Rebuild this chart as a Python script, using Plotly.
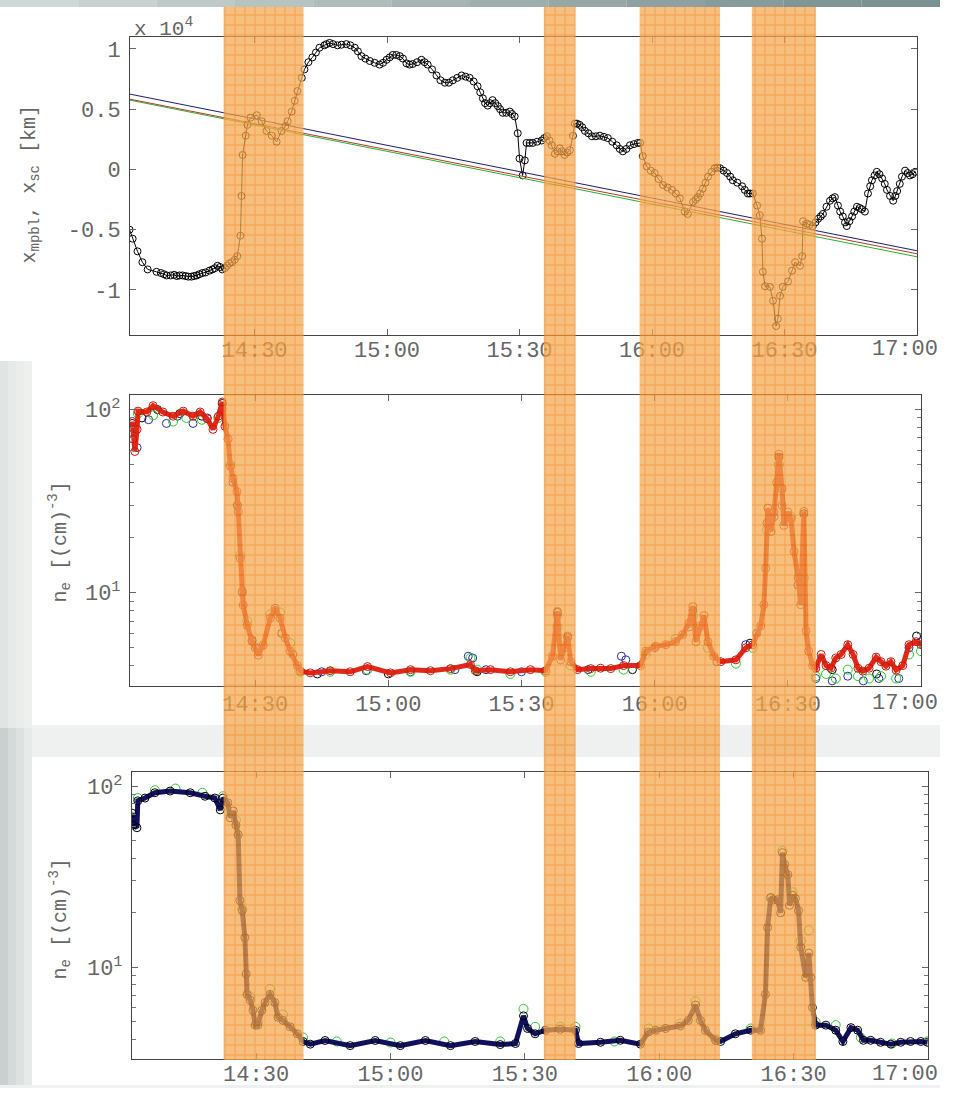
import plotly.graph_objects as go

# ---------------- data (time in minutes after 14:00) ----------------
tick_minutes = [30, 60, 90, 120, 150, 180]
tick_labels = ["14:30", "15:00", "15:30", "16:00", "16:30", "17:00"]

# top panel: x_sc (units of 1e4 km)
t_top = [1.7, 2.4, 3.5, 4.6, 5.8, 7.8, 8.8, 9.5, 10.1, 11.0, 11.8, 12.4, 13.0, 13.7, 14.4, 15.0, 15.7, 16.3, 16.9,
         17.5, 18.2, 18.9, 19.8, 20.5, 21.0, 21.6, 22.2, 22.7, 23.3, 23.8, 24.3, 24.9, 25.5, 26.1, 26.8, 27.05,
         27.3, 28.0, 28.4, 29.1, 30.5, 31.6, 32.7, 33.9, 35.0, 36.1, 37.0, 37.5, 38.4, 39.1, 39.7, 40.7, 41.3,
         42.2, 43.1, 43.9, 44.7, 45.8, 46.3, 47.0, 47.8, 48.8, 49.7, 50.8, 51.7, 52.7, 53.4, 54.2, 55.1, 56.1,
         57.2, 58.3, 59.1, 59.9, 60.6, 61.3, 62.1, 62.9, 63.6, 64.4, 65.1, 65.8, 66.8, 67.8, 68.5, 69.2, 70.2,
         71.2, 72.1, 73.1, 74.0, 74.9, 75.9, 76.9, 77.8, 78.7, 79.6, 80.5, 81.1, 81.7, 82.2, 82.8, 83.3, 83.9,
         84.5, 85.1, 85.6, 86.2, 87.0, 87.8, 88.3, 88.9, 89.6, 90.0, 90.7, 91.2, 91.6, 92.3, 93.0, 94.0, 95.0,
         95.6, 96.2, 96.8, 97.3, 98.0, 98.6, 99.1, 99.6, 100.2, 100.8, 101.4, 102.1, 102.5, 103.0, 103.6, 104.2,
         104.8, 105.6, 106.4, 107.3, 108.2, 109.1, 110.0, 111.0, 112.0, 112.7, 113.4, 114.2, 115.0, 115.9, 116.8,
         117.3, 117.9, 118.8, 119.7, 120.6, 121.5, 122.5, 123.5, 124.5, 125.4, 126.3, 127.4, 128.1, 129.3, 129.9,
         130.4, 130.9, 131.5, 132.1, 132.7, 133.5, 134.2, 134.8, 135.4, 136.2, 137.0, 137.7, 138.3, 139.3, 140.4,
         141.0, 141.7, 142.2, 142.8, 143.8, 144.4, 144.9, 145.1, 145.6, 146.7, 147.4, 148.1, 148.5, 149.0, 149.6,
         150.8, 151.7, 152.4, 153.5, 154.0, 154.2, 155.1, 155.7, 156.4, 157.0, 157.6, 158.2, 158.7, 159.5, 160.3,
         160.9, 161.4, 162.1, 162.6, 163.2, 163.7, 164.1, 164.7, 165.3, 165.8, 166.4, 167.0, 167.5, 168.2, 168.9,
         169.4, 169.8, 170.4, 170.9, 171.5, 172.1, 172.7, 173.2, 173.9, 174.6, 175.1, 175.5, 176.1, 176.6, 177.3,
         177.9, 178.4, 179.0, 179.6]
x_sc = [-0.50, -0.575, -0.68, -0.77, -0.83, -0.85, -0.86, -0.87, -0.88, -0.88, -0.875, -0.885, -0.88, -0.88, -0.885,
        -0.89, -0.89, -0.885, -0.88, -0.87, -0.86, -0.855, -0.84, -0.83, -0.82, -0.80, -0.81, -0.83, -0.82, -0.80,
        -0.78, -0.77, -0.75, -0.72, -0.55, -0.22, 0.12, 0.28, 0.37, 0.43, 0.45, 0.40, 0.32, 0.28, 0.23, 0.32, 0.36,
        0.40, 0.48, 0.57, 0.65, 0.76, 0.83, 0.89, 0.93, 0.97, 1.01, 1.03, 1.04, 1.05, 1.04, 1.03, 1.035, 1.04, 1.03,
        1.01, 0.98, 0.94, 0.92, 0.90, 0.885, 0.87, 0.885, 0.91, 0.93, 0.95, 0.95, 0.94, 0.92, 0.88, 0.87, 0.875,
        0.89, 0.91, 0.89, 0.87, 0.83, 0.78, 0.74, 0.72, 0.72, 0.74, 0.76, 0.78, 0.77, 0.76, 0.73, 0.69, 0.64, 0.59,
        0.55, 0.53, 0.55, 0.575, 0.55, 0.525, 0.50, 0.47, 0.47, 0.48, 0.46, 0.44, 0.30, 0.09, -0.05, 0.075, 0.22,
        0.22, 0.22, 0.23, 0.24, 0.26, 0.275, 0.24, 0.20, 0.13, 0.15, 0.175, 0.15, 0.12, 0.14, 0.16, 0.28, 0.38,
        0.38, 0.37, 0.35, 0.32, 0.30, 0.275, 0.275, 0.28, 0.27, 0.26, 0.23, 0.20, 0.17, 0.15, 0.17, 0.20, 0.21,
        0.22, 0.22, 0.11, 0.025, -0.01, -0.03, -0.08, -0.13, -0.15, -0.17, -0.20, -0.24, -0.35, -0.37, -0.27,
        -0.25, -0.23, -0.20, -0.16, -0.11, -0.06, -0.02, 0.01, 0.015, 0.01, -0.01, -0.03, -0.06, -0.09, -0.11,
        -0.14, -0.17, -0.20, -0.20, -0.20, -0.30, -0.38, -0.575, -0.85, -0.97, -0.975, -1.09, -1.30, -1.24, -1.05,
        -0.975, -0.93, -0.84, -0.77, -0.80, -0.72, -0.43, -0.45, -0.46, -0.47, -0.44, -0.41, -0.39, -0.37, -0.31,
        -0.26, -0.24, -0.23, -0.30, -0.35, -0.39, -0.44, -0.47, -0.43, -0.39, -0.35, -0.31, -0.32, -0.33, -0.35,
        -0.20, -0.14, -0.09, -0.05, -0.02, -0.04, -0.075, -0.12, -0.17, -0.22, -0.26, -0.22, -0.18, -0.12, -0.06,
        -0.01, -0.03, -0.05, -0.04, -0.02]

# top panel: model boundary positions x_mpbl (start/end of interval)
t_mpb = [1.8, 180.0]
x_mpb_navy = [0.625, -0.675]
x_mpb_red = [0.583, -0.700]
x_mpb_green = [0.575, -0.725]

# middle panel: n_e, four series
t_mid = [2.3, 2.5, 2.9, 3.4, 3.6, 5.6, 7.0, 9.2, 11.5, 13.8, 16.0, 17.6, 19.2, 20.5, 21.7, 22.6, 23.2, 23.9, 24.4,
         25.0, 25.9, 26.2, 26.6, 27.1, 27.3, 28.2, 29.3, 30.7, 31.8, 33.4, 34.5, 35.6, 36.8, 37.9, 39.5, 40.2, 42.4,
         46.9, 51.4, 55.3, 60.5, 65.0, 69.5, 74.0, 78.5, 79.6, 83.0, 87.5, 92.0, 95.4, 97.0, 98.1, 98.8, 99.7,
         100.4, 101.1, 102.6, 105.6, 107.8, 110.1, 113.0, 116.8, 118.0, 120.2, 122.5, 124.7, 126.3, 127.7, 128.6,
         129.3, 130.4, 131.1, 132.0, 133.3, 134.9, 138.3, 140.5, 142.1, 143.9, 144.6, 145.0, 145.3, 145.5, 146.2,
         146.9, 147.5, 148.0, 148.7, 149.1, 150.0, 150.7, 151.4, 152.3, 152.9, 153.6, 154.1, 154.7, 155.6, 156.3,
         157.5, 158.6, 159.7, 160.8, 162.0, 163.5, 164.7, 165.8, 166.9, 168.3, 169.9, 171.0, 172.1, 173.2, 174.4,
         175.9, 177.3, 178.9, 180.0]
ne_mid_red = [86, 69, 59, 78, 98, 97, 105, 97, 92, 98, 92, 97, 89, 78, 92, 110, 81, 69, 49, 42, 35.7, 27.7, 15.4,
              10.2, 8.55, 6.64, 5.43, 4.56, 5.17, 7.26, 8.22, 7.26, 5.65, 4.8, 4.0, 3.73, 3.65, 3.75, 3.7, 3.95,
              3.65, 3.8, 3.75, 3.85, 4.05, 3.75, 3.8, 3.7, 3.8, 3.75, 4.5, 7.9, 4.3, 5.0, 5.8, 4.2, 3.8, 3.85, 3.87,
              3.85, 4.0, 4.0, 4.8, 5.1, 5.2, 5.4, 5.9, 6.8, 8.4, 5.4, 6.6, 7.5, 5.4, 4.5, 4.2, 4.3, 5.0, 5.2, 6.6,
              8.6, 13.6, 24, 29, 21.6, 27.6, 40, 57, 37, 23.3, 27.6, 25.4, 16.8, 12.1, 8.6, 27.8, 6.2, 4.8, 4.0,
              3.87, 4.6, 4.0, 3.87, 4.4, 4.6, 5.2, 4.6, 3.87, 3.73, 3.87, 4.45, 4.2, 3.97, 4.2, 3.78, 4.0, 5.2,
              5.4, 5.2]
t_mid_g = [2.3, 3.6, 7.0, 11.5, 14.5, 18.0, 21.7, 24.4, 26.6, 28.2, 30.7, 33.4, 35.6, 37.9, 40.2, 46.9, 55.3, 65.0,
           74.0, 78.5, 80.0, 87.5, 95.4, 98.1, 101.1, 105.6, 113.0, 118.0, 124.7, 128.6, 132.0, 138.3, 142.1, 145.3,
           148.0, 150.7, 153.6, 156.3, 158.6, 160.8, 163.5, 165.8, 168.3, 171.0, 174.4, 177.3, 180.0]
ne_mid_green = [80, 95, 93, 86, 90, 88, 90, 50, 16, 7.0, 5.0, 7.6, 7.8, 5.3, 3.7, 3.7, 3.8, 3.7, 3.8, 4.4, 3.8, 3.6,
                3.7, 6.5, 4.0, 3.7, 3.8, 4.6, 5.6, 7.5, 5.0, 4.1, 5.0, 22, 50, 26, 12, 3.5, 3.6, 3.4, 3.8, 3.5,
                3.4, 3.5, 3.4, 4.6, 4.8]
t_mid_b = [2.3, 3.4, 6.0, 10.0, 12.5, 16.0, 19.2, 22.6, 25.0, 27.1, 30.0, 34.5, 38.5, 45.0, 55.0, 65.0, 75.0, 78.0,
           79.0, 82.0, 90.0, 98.1, 105.0, 112.5, 113.5, 120.0, 127.7, 134.0, 140.5, 143.0, 146.9, 148.7, 152.3,
           156.3, 160.0, 163.5, 167.0, 170.5, 175.0, 177.3, 180.0]
ne_mid_blue = [80, 62, 88, 84, 92, 84, 90, 100, 40, 10, 5.0, 8.0, 4.6, 3.7, 3.75, 3.7, 3.8, 4.5, 4.4, 3.8, 3.7, 7.5,
               3.8, 4.5, 4.3, 5.0, 6.5, 4.2, 5.2, 6.0, 26, 30, 11, 3.4, 3.3, 3.5, 3.3, 3.4, 3.4, 5.0, 5.4]
t_mid_k = [2.3, 4.5, 8.0, 13.0, 18.0, 22.6, 26.0, 29.3, 36.0, 44.0, 60.0, 80.0, 98.1, 100.4, 115.0, 128.6, 141.5,
           148.0, 153.6, 160.0, 170.0, 179.0]
ne_mid_black = [84, 90, 100, 95, 92, 108, 30, 5.5, 6.0, 3.6, 3.6, 3.7, 7.8, 5.7, 3.8, 8.0, 5.3, 55, 27, 3.8, 3.6, 5.8]

# bottom panel: n_e, main series and green series
t_bot = [2.3, 2.5, 3.4, 3.6, 5.2, 7.4, 10.8, 15.3, 18.6, 20.8, 22.0, 22.6, 23.7, 24.2, 24.9, 25.5, 26.0, 26.4, 26.9,
         27.5, 27.8, 28.0, 28.7, 29.3, 29.8, 30.4, 31.3, 32.0, 33.1, 34.2, 34.9, 36.0, 37.6, 39.2, 40.5, 42.1, 45.4,
         51.0, 56.6, 62.2, 67.8, 73.4, 78.9, 84.5, 87.9, 89.7, 90.6, 92.3, 94.6, 97.9, 101.3, 102.0, 106.9, 111.3,
         115.8, 117.6, 119.2, 121.4, 124.7, 126.5, 128.1, 129.2, 130.3, 132.6, 133.7, 137.0, 140.4, 142.6, 143.7,
         144.2, 144.9, 145.5, 146.4, 147.1, 147.5, 148.0, 148.7, 149.1, 149.8, 150.4, 151.1, 151.6, 152.7, 153.4,
         153.8, 154.2, 154.9, 157.2, 159.4, 161.0, 162.8, 164.3, 165.6, 167.2, 169.4, 171.7, 173.9, 176.1, 178.4,
         179.9]
ne_bot = [71, 61, 59, 83, 86, 92, 94, 92, 88, 86, 74, 86, 81, 67, 73, 61, 54, 23.4, 20.6, 14.6, 9.2, 7.1, 6.6, 5.8,
          4.8, 4.8, 5.8, 6.4, 7.1, 6.4, 5.3, 5.1, 4.7, 4.3, 3.9, 3.77, 3.95, 3.7, 3.95, 3.7, 3.95, 3.7, 3.9, 3.75,
          3.8, 5.4, 4.6, 4.3, 4.5, 4.55, 4.5, 3.8, 3.86, 3.96, 3.77, 4.4, 4.5, 4.6, 4.75, 5.1, 6.2, 5.1, 4.5, 3.95,
          3.9, 4.3, 4.5, 4.5, 7.1, 16.6, 24.3, 23.6, 23.6, 20, 43, 37, 32.5, 22, 25, 24, 20.6, 12.9, 8.8, 12, 8.8,
          6.0, 4.8, 4.8, 4.5, 3.9, 4.65, 4.5, 3.96, 3.96, 3.86, 3.77, 3.86, 3.9, 3.9, 3.86]
t_bot_g = [2.3, 3.6, 7.4, 12.0, 18.0, 22.6, 25.5, 26.9, 28.7, 30.4, 33.1, 36.0, 40.5, 48.0, 60.0, 72.0, 84.5, 89.7,
           92.3, 97.9, 101.3, 110.0, 117.6, 124.7, 128.1, 132.6, 140.4, 144.9, 147.5, 149.8, 151.6, 153.4, 154.9,
           159.4, 165.0, 172.0, 179.9]
ne_bot_green = [68, 86, 95, 97, 92, 88, 65, 21, 6.9, 5.0, 7.6, 5.5, 4.1, 3.9, 3.85, 3.9, 3.9, 5.9, 4.7, 4.7, 4.7,
                3.9, 4.6, 4.9, 6.5, 4.0, 4.6, 24, 44, 26, 14, 16, 5.0, 4.8, 4.1, 3.8, 3.9]

# highlighted intervals (minutes after 14:00)
band_start = [23.0, 95.5, 117.2, 142.6]
band_end = [41.1, 102.7, 135.4, 157.1]

# ---------------- layout helpers ----------------
W, H = 940, 1088
def px(x):
    return min(x / W, 1.0)
def py(y):
    return max(1 - y / H, 0.0)

FONT = "Liberation Mono"
TXT = "#666666"

fig = go.Figure()

# top panel
fig.add_trace(go.Scatter(x=t_top, y=x_sc, mode="lines+markers", xaxis="x", yaxis="y",
                         line=dict(color="black", width=1),
                         marker=dict(symbol="circle-open", size=7, color="black", line=dict(width=1))))
for ys, c in [(x_mpb_green, "#2bb02b"), (x_mpb_red, "#b03a2e"), (x_mpb_navy, "#1c1c6e")]:
    fig.add_trace(go.Scatter(x=t_mpb, y=ys, mode="lines", xaxis="x", yaxis="y", line=dict(color=c, width=1)))

# middle panel
def mk(c, s=8):
    return dict(symbol="circle-open", size=s, color=c, line=dict(width=1, color=c))

fig.add_trace(go.Scatter(x=t_mid_k, y=ne_mid_black, mode="markers", xaxis="x2", yaxis="y2", marker=mk("black")))
fig.add_trace(go.Scatter(x=t_mid_b, y=ne_mid_blue, mode="markers", xaxis="x2", yaxis="y2", marker=mk("#2a2aa8")))
fig.add_trace(go.Scatter(x=t_mid_g, y=ne_mid_green, mode="markers", xaxis="x2", yaxis="y2", marker=mk("#22cc22", 9)))
fig.add_trace(go.Scatter(x=t_mid, y=ne_mid_red, mode="lines+markers", xaxis="x2", yaxis="y2",
                         line=dict(color="#e02818", width=5), marker=mk("#c81a0a")))

# bottom panel
fig.add_trace(go.Scatter(x=t_bot_g, y=ne_bot_green, mode="markers", xaxis="x3", yaxis="y3", marker=mk("#30c830", 9)))
fig.add_trace(go.Scatter(x=t_bot, y=ne_bot, mode="lines+markers", xaxis="x3", yaxis="y3",
                         line=dict(color="#10105e", width=5),
                         marker=dict(symbol="circle-open", size=8, color="black", line=dict(width=1))))

# highlight bands (overlay axes spanning the page vertically)
yb0, yb1 = py(1063), py(7)
for a, b in zip(band_start, band_end):
    fig.add_trace(go.Scatter(x=[a, b, b, a, a], y=[yb0, yb0, yb1, yb1, yb0], mode="lines",
                             xaxis="x4", yaxis="y4", fill="toself", line=dict(width=0), opacity=0.75,
                             fillcolor="#F4A850",
                             fillpattern=dict(shape="+", size=10, solidity=0.25,
                                              fgcolor="#E67300", bgcolor="#F4A850"),
                             hoverinfo="skip"))

axis_common = dict(showline=True, linecolor="#444444", linewidth=1, mirror="ticks", ticks="inside",
                   ticklen=6, tickcolor="#666666", showgrid=False, zeroline=False,
                   tickfont=dict(family=FONT, size=22, color=TXT))

# the last label sits at the right edge of the page; it is written as an annotation below
xcommon = dict(axis_common, tickvals=tick_minutes, ticktext=tick_labels[:-1] + [""])
log_minor = dict(ticks="inside", ticklen=4, tickcolor="#777777",
                 tickvals=[3, 4, 5, 6, 7, 8, 9, 20, 30, 40, 50, 60, 70, 80, 90])

fig.update_layout(
    width=W, height=H, autosize=False, margin=dict(l=0, r=0, t=0, b=0),
    paper_bgcolor="#eef1ef", plot_bgcolor="rgba(0,0,0,0)", showlegend=False,
    xaxis=dict(xcommon, domain=[px(130), px(917)], range=[1.8, 180], anchor="y", ticklabelstandoff=-5),
    yaxis=dict(axis_common, domain=[py(336), py(37)], range=[-1.375, 1.1], anchor="x",
               tickvals=[-1, -0.5, 0, 0.5, 1], ticktext=["-1", "-0.5", "0", "0.5", "1"], ticklabelstandoff=4),
    xaxis2=dict(xcommon, domain=[px(130), px(921)], range=[1.8, 180], anchor="y2", ticklabelstandoff=-3),
    yaxis2=dict(axis_common, type="log", domain=[py(688), py(396)], range=[0.49, 2.08], anchor="x2",
                tickvals=[10, 100], ticktext=["10<sup>1</sup>", "10<sup>2</sup>"], minor=log_minor,
                ticklabelstandoff=4),
    xaxis3=dict(xcommon, domain=[px(132), px(928)], range=[2.3, 180], anchor="y3", ticklabelstandoff=-5),
    yaxis3=dict(axis_common, type="log", domain=[py(1062), py(774)], range=[0.494, 2.079], anchor="x3",
                tickvals=[10, 100], ticktext=["10<sup>1</sup>", "10<sup>2</sup>"], minor=log_minor,
                ticklabelstandoff=4),
    xaxis4=dict(domain=[px(130), px(917)], range=[1.8, 180], visible=False, anchor="y4", fixedrange=True),
    yaxis4=dict(domain=[0, 1], range=[0, 1], visible=False, anchor="x4", fixedrange=True),
)

# page background pieces
shapes = []
left_cols_top = ["#e0e5e3", "#e6eae8", "#eaedeb", "#eef0ee"]
left_cols_bot = ["#c8d1cf", "#d3dad8", "#dde2e0", "#e6eae8"]
for i in range(4):
    shapes.append(dict(type="rect", xref="paper", yref="paper", x0=px(8 * i), x1=px(8 * i + 8),
                       y0=py(730), y1=py(362), fillcolor=left_cols_top[i], line=dict(width=0), layer="below"))
    shapes.append(dict(type="rect", xref="paper", yref="paper", x0=px(8 * i), x1=px(8 * i + 8),
                       y0=py(1094), y1=py(730), fillcolor=left_cols_bot[i], line=dict(width=0), layer="below"))
for (x0, y0, x1, y1) in [(0, 7, 974, 362), (32, 362, 974, 727), (32, 759, 974, 1094)]:
    shapes.append(dict(type="rect", xref="paper", yref="paper", x0=px(x0), x1=px(x1), y0=py(y1), y1=py(y0),
                       fillcolor="white", line=dict(width=0), layer="below"))
bar_cols = ["#cfd8d6", "#c7d1cf", "#bfcac8", "#b6c3c1", "#aebcba", "#a6b5b3", "#9eaeac", "#96a7a5",
            "#8ea1a0", "#879b9a", "#809695", "#7a9291"]
n = len(bar_cols)
for i, c in enumerate(bar_cols):
    shapes.append(dict(type="rect", xref="paper", yref="paper", x0=i / n, x1=(i + 1) / n,
                       y0=py(7), y1=1, fillcolor=c, line=dict(width=0), layer="below"))
fig.update_layout(shapes=shapes)

ann_font = dict(family=FONT, size=20, color=TXT)
fig.add_annotation(text="x 10<sup>4</sup>", x=px(132), y=py(28), xref="paper", yref="paper",
                   xanchor="left", yanchor="middle", showarrow=False, font=dict(family=FONT, size=21, color=TXT))
fig.add_annotation(text="x<sub>mpbl</sub>, x<sub>sc</sub> [km]", x=px(30), y=py(185), xref="paper", yref="paper",
                   xanchor="center", yanchor="middle", textangle=-90, showarrow=False, font=ann_font)
for yc in (543, 921):
    fig.add_annotation(text="n<sub>e</sub> [(cm)<sup>-3</sup>]", x=px(60), y=py(yc), xref="paper", yref="paper",
                       xanchor="center", yanchor="middle", textangle=-90, showarrow=False, font=ann_font)
# right-most time labels of the three panels
for yc in (350, 705, 1077):
    fig.add_annotation(text=tick_labels[-1], x=1.0, y=py(yc), xref="paper", yref="paper",
                       xanchor="right", yanchor="middle", showarrow=False,
                       font=dict(family=FONT, size=22, color=TXT))

fig.write_html("out.html")
